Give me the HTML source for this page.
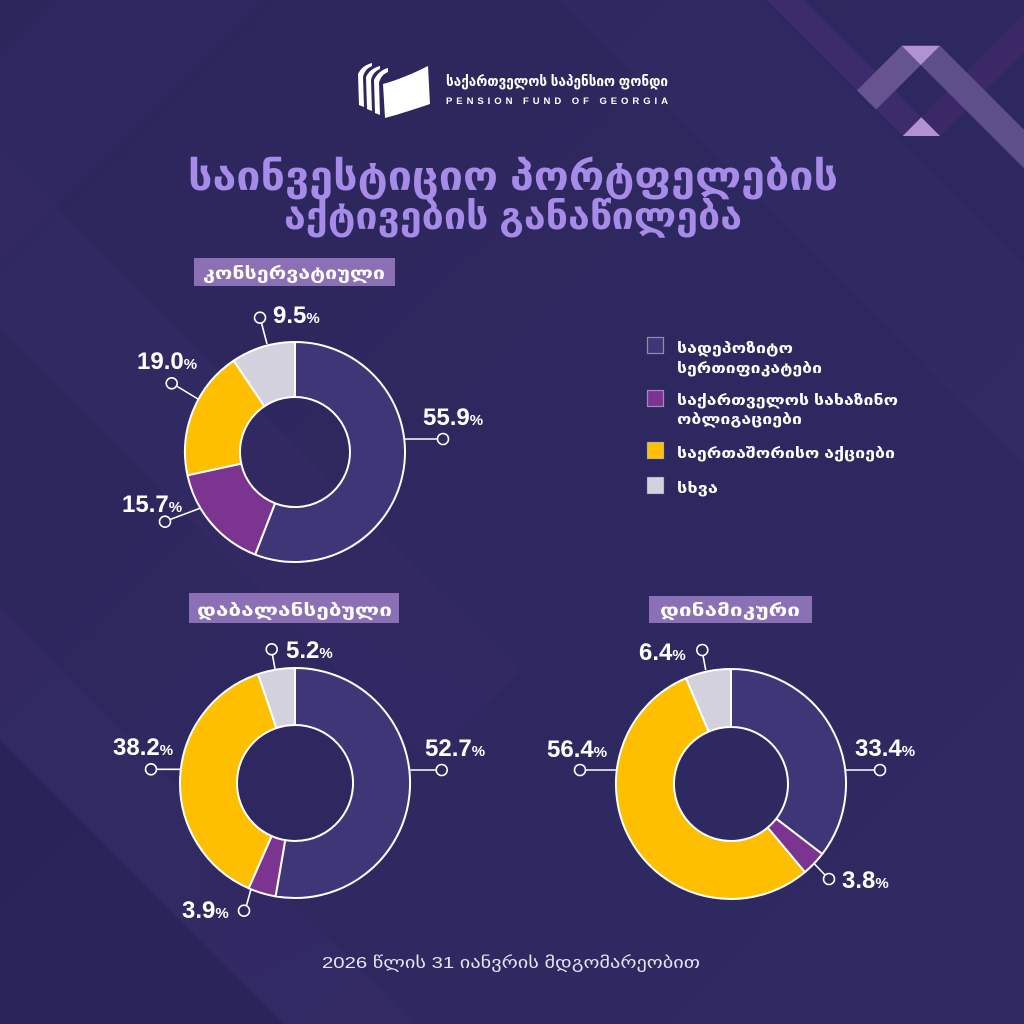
<!DOCTYPE html>
<html>
<head>
<meta charset="utf-8">
<style>
  html, body { margin:0; padding:0; background:#2e2860; }
  svg { display:block; }
  .geo { font-family: "Liberation Sans", "DejaVu Sans", sans-serif; font-weight:bold; }
  .num { font-family: "Liberation Sans", "DejaVu Sans", sans-serif; font-weight:bold; fill:#ffffff; font-size:24px; }
  .pc { font-size:15px; }
</style>
</head>
<body>
<svg width="1024" height="1024" viewBox="0 0 1024 1024" xmlns="http://www.w3.org/2000/svg">
  <defs>
    <linearGradient id="bg" x1="0" y1="0" x2="1" y2="1">
      <stop offset="0" stop-color="#2c265c"/>
      <stop offset="0.5" stop-color="#2e2860"/>
      <stop offset="1" stop-color="#302a63"/>
    </linearGradient>
  </defs>
  <rect x="0" y="0" width="1024" height="1024" fill="url(#bg)"/>

  <!-- subtle background bands -->
  <polygon points="0,150 0,330 430,760 520,670" fill="#3a2d6a" opacity="0.3"/>
  <polygon points="0,610 0,740 284,1024 414,1024" fill="#3a2d6a" opacity="0.4"/>
  <polygon points="0,740 0,1024 284,1024" fill="#201c4e" opacity="0.35"/>
  <polygon points="200,560 490,700 490,860 200,1000" fill="#352a64" opacity="0.15"/>
  <polygon points="60,0 260,0 0,260 0,60" fill="#372c66" opacity="0.3"/>
  <polygon points="560,0 760,0 1024,264 1024,464" fill="#36306a" opacity="0.25"/>

  <!-- top-right decoration -->
  <polygon points="766.7,0 804,0 921.3,117.3 902.7,136" fill="#3d2c6b"/>
  <polygon points="921.3,117.3 940,136 1024,52 1024,14.6" fill="#3a2966"/>
  <polygon points="901.7,45.7 920.7,65 876.2,109.5 857,90.4" fill="#65548f"/>
  <polygon points="920.7,65 940,45.7 1024,129.7 1024,168.3" fill="#5e4e8a"/>
  <polygon points="901.7,45.7 940,45.7 920.7,65" fill="#b291d2"/>
  <polygon points="902.7,136 940,136 921.3,117.3" fill="#b291d2"/>

  <!-- logo icon -->
  <g fill="#ffffff">
    <path d="M383,84 C398,80 414,73 428,66 L430,104 C415,109 400,114 385,118 Z"/>
    <path d="M374,80 C377,74 381,70 388,68 L388,72 C383,74 380,78 379,83 L380,115 L375,113 Z"/>
    <path d="M366,77 C369,71 373,68 380,66 L380,69 C375,71 372,75 371,80 L372,111 L367,109 Z"/>
    <path d="M358,74 C361,68 365,65 372,63 L372,66 C367,68 364,72 363,77 L364,107 L359,105 Z"/>
  </g>
  <text class="geo" x="446" y="86" font-size="14" fill="#ffffff" textLength="222" lengthAdjust="spacingAndGlyphs">საქართველოს საპენსიო ფონდი</text>
  <text x="446" y="104" font-family="Liberation Sans, DejaVu Sans, sans-serif" font-weight="bold" font-size="9.5" fill="#ffffff" textLength="222" lengthAdjust="spacing">PENSION FUND OF GEORGIA</text>

  <!-- title -->
  <text class="geo" x="188" y="190" font-size="40" fill="#a78be8" textLength="650" lengthAdjust="spacingAndGlyphs">საინვესტიციო პორტფელების</text>
  <text class="geo" x="284" y="229" font-size="38" fill="#a78be8" textLength="458" lengthAdjust="spacingAndGlyphs">აქტივების განაწილება</text>

  <!-- ============ Chart 1: conservative ============ -->
  <rect x="194" y="258" width="201" height="28" fill="#8b70b5"/>
  <text class="geo" x="203" y="279" font-size="17" fill="#ffffff" textLength="182" lengthAdjust="spacingAndGlyphs">კონსერვატიული</text>

  <g stroke="#ffffff" stroke-width="2" stroke-linejoin="round">
    <path d="M295,342 A110,110 0 1 1 255.16,554.53 L275.08,503.27 A55,55 0 1 0 295,397 Z" fill="#3f3677"/>
    <path d="M255.16,554.53 A110,110 0 0 1 187.50,475.32 L241.25,463.66 A55,55 0 0 0 275.08,503.27 Z" fill="#7b3590"/>
    <path d="M187.50,475.32 A110,110 0 0 1 233.75,360.63 L264.38,406.32 A55,55 0 0 0 241.25,463.66 Z" fill="#fdbf00"/>
    <path d="M233.75,360.63 A110,110 0 0 1 295,342 L295,397 A55,55 0 0 0 264.38,406.32 Z" fill="#d3d1de"/>
  </g>
  <g stroke="#ffffff" stroke-width="1.6" fill="#2e2860">
    <line x1="405" y1="439" x2="437.5" y2="439"/>
    <circle cx="443" cy="439" r="5.5"/>
    <line x1="261.5" y1="323" x2="267" y2="344"/>
    <circle cx="260" cy="317.7" r="5.5"/>
    <line x1="176.5" y1="386" x2="198" y2="399"/>
    <circle cx="171.7" cy="383.3" r="5.5"/>
    <line x1="170" y1="519.5" x2="200" y2="508.3"/>
    <circle cx="165" cy="521.7" r="5.5"/>
  </g>
  <text class="num" x="423" y="425">55.9<tspan class="pc">%</tspan></text>
  <text class="num" x="273" y="323">9.5<tspan class="pc">%</tspan></text>
  <text class="num" x="137" y="369">19.0<tspan class="pc">%</tspan></text>
  <text class="num" x="122" y="512">15.7<tspan class="pc">%</tspan></text>

  <!-- legend -->
  <g stroke="rgba(255,255,255,0.45)" stroke-width="1.2">
    <rect x="647.5" y="337.5" width="16" height="16" fill="#3f3677"/>
    <rect x="647.5" y="390.5" width="16" height="16" fill="#7b3590"/>
    <rect x="647.5" y="442.5" width="16" height="16" fill="#fdbf00"/>
    <rect x="647.5" y="477.5" width="16" height="16" fill="#d3d1de"/>
  </g>
  <g class="geo" fill="#ffffff" font-size="14">
    <text x="677" y="353" textLength="116" lengthAdjust="spacingAndGlyphs">სადეპოზიტო</text>
    <text x="677" y="373" textLength="145" lengthAdjust="spacingAndGlyphs">სერთიფიკატები</text>
    <text x="677" y="405" textLength="221" lengthAdjust="spacingAndGlyphs">საქართველოს სახაზინო</text>
    <text x="677" y="424" textLength="125" lengthAdjust="spacingAndGlyphs">ობლიგაციები</text>
    <text x="677" y="458" textLength="218" lengthAdjust="spacingAndGlyphs">საერთაშორისო აქციები</text>
    <text x="677" y="493" textLength="41" lengthAdjust="spacingAndGlyphs">სხვა</text>
  </g>

  <!-- ============ Chart 2: balanced ============ -->
  <rect x="189" y="593" width="210" height="30" fill="#8b70b5"/>
  <text class="geo" x="197" y="616" font-size="17" fill="#ffffff" textLength="195" lengthAdjust="spacingAndGlyphs">დაბალანსებული</text>

  <g stroke="#ffffff" stroke-width="2" stroke-linejoin="round">
    <path d="M295,668 A115,115 0 1 1 275.59,896.34 L285.21,840.16 A58,58 0 1 0 295,725 Z" fill="#3f3677"/>
    <path d="M275.59,896.34 A115,115 0 0 1 248.67,888.25 L271.63,836.08 A58,58 0 0 0 285.21,840.16 Z" fill="#7b3590"/>
    <path d="M248.67,888.25 A115,115 0 0 1 258.08,674.08 L276.38,728.07 A58,58 0 0 0 271.63,836.08 Z" fill="#fdbf00"/>
    <path d="M258.08,674.08 A115,115 0 0 1 295,668 L295,725 A58,58 0 0 0 276.38,728.07 Z" fill="#d3d1de"/>
  </g>
  <g stroke="#ffffff" stroke-width="1.6" fill="#2e2860">
    <line x1="410" y1="770" x2="436" y2="770"/>
    <circle cx="441.7" cy="770" r="5.5"/>
    <line x1="272.5" y1="655" x2="275" y2="669"/>
    <circle cx="271.7" cy="649.3" r="5.5"/>
    <line x1="157" y1="769.3" x2="180" y2="769.3"/>
    <circle cx="151" cy="769.3" r="5.5"/>
    <line x1="246.5" y1="905.5" x2="251" y2="889"/>
    <circle cx="244" cy="910.7" r="5.5"/>
  </g>
  <text class="num" x="425" y="756">52.7<tspan class="pc">%</tspan></text>
  <text class="num" x="286" y="658">5.2<tspan class="pc">%</tspan></text>
  <text class="num" x="113" y="755">38.2<tspan class="pc">%</tspan></text>
  <text class="num" x="182" y="918">3.9<tspan class="pc">%</tspan></text>

  <!-- ============ Chart 3: dynamic ============ -->
  <rect x="649" y="596" width="163" height="27" fill="#8b70b5"/>
  <text class="geo" x="660" y="616" font-size="17" fill="#ffffff" textLength="140" lengthAdjust="spacingAndGlyphs">დინამიკური</text>

  <g stroke="#ffffff" stroke-width="2" stroke-linejoin="round">
    <path d="M731,669 A115,115 0 0 1 822.24,854.01 L776.22,818.70 A57,57 0 0 0 731,727 Z" fill="#3f3677"/>
    <path d="M822.24,854.01 A115,115 0 0 1 804.92,872.09 L767.64,827.66 A57,57 0 0 0 776.22,818.70 Z" fill="#7b3590"/>
    <path d="M804.92,872.09 A115,115 0 1 1 686.00,678.18 L708.70,731.55 A57,57 0 1 0 767.64,827.66 Z" fill="#fdbf00"/>
    <path d="M686.00,678.18 A115,115 0 0 1 731,669 L731,727 A57,57 0 0 0 708.70,731.55 Z" fill="#d3d1de"/>
  </g>
  <g stroke="#ffffff" stroke-width="1.6" fill="#2e2860">
    <line x1="846" y1="770" x2="874.5" y2="770"/>
    <circle cx="880" cy="770" r="5.5"/>
    <line x1="703" y1="655.5" x2="705.7" y2="670"/>
    <circle cx="702.3" cy="650" r="5.5"/>
    <line x1="585.5" y1="770" x2="616" y2="770"/>
    <circle cx="580" cy="770" r="5.5"/>
    <line x1="814" y1="863.5" x2="825" y2="875"/>
    <circle cx="829" cy="879" r="5.5"/>
  </g>
  <text class="num" x="855" y="756">33.4<tspan class="pc">%</tspan></text>
  <text class="num" x="639" y="660">6.4<tspan class="pc">%</tspan></text>
  <text class="num" x="547" y="757">56.4<tspan class="pc">%</tspan></text>
  <text class="num" x="842" y="888">3.8<tspan class="pc">%</tspan></text>

  <!-- footer -->
  <text x="322" y="968" font-family="Liberation Sans, DejaVu Sans, sans-serif" font-size="16" fill="#e6e2f2" textLength="378" lengthAdjust="spacingAndGlyphs">2026 წლის 31 იანვრის მდგომარეობით</text>
</svg>
</body>
</html>
